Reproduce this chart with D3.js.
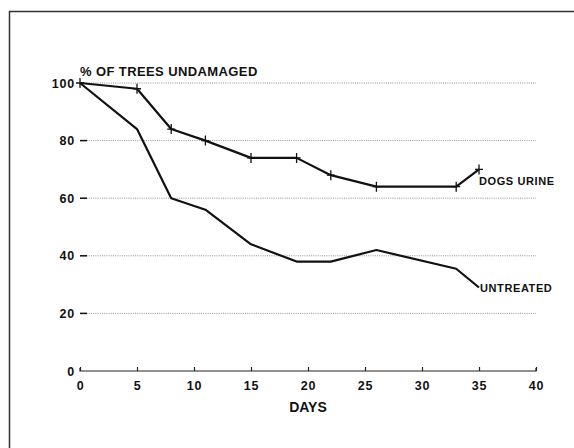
<!DOCTYPE html>
<html><head><meta charset="utf-8">
<script src="https://cdn.jsdelivr.net/npm/d3@7"></script>
<style>html,body{margin:0;padding:0;background:#fff}svg{display:block}</style>
</head><body>
<script>
const days = [0, 5, 8, 11, 15, 19, 22, 26, 33, 35];
const dogsUrine = [100, 98, 84, 80, 74, 74, 68, 64, 64, 70];
const untreated = [100, 84, 60, 56, 44, 38, 38, 42, 35.5, 29];
const xTicks = [0, 5, 10, 15, 20, 25, 30, 35, 40];
const yTicks = [0, 20, 40, 60, 80, 100];
const seriesNames = ["DOGS URINE", "UNTREATED"];
const yTitle = "% OF TREES UNDAMAGED";
const xTitle = "DAYS";

const W = 574, H = 448;
const svg = d3.select("body").append("svg").attr("width", W).attr("height", H);
const x = d3.scaleLinear().domain([0, 40]).range([80, 536]);
const y = d3.scaleLinear().domain([0, 100]).range([371, 83]);
const font = "'Liberation Sans', Arial, sans-serif";

// frame
svg.append("path").attr("d", `M9.5,${H} V11.5 H${W}`).attr("fill", "none")
  .attr("stroke", "#333").attr("stroke-width", 1.5);

// gridlines
svg.append("g").selectAll("line").data(yTicks.filter(d => d > 0)).join("line")
  .attr("x1", x(0)).attr("x2", x(40)).attr("y1", d => y(d)).attr("y2", d => y(d))
  .attr("stroke", "#777").attr("stroke-width", 0.8).attr("stroke-dasharray", "1,1.2");
// y ticks (inward dash)
svg.append("g").selectAll("line").data(yTicks.filter(d => d > 0 && d < 100)).join("line")
  .attr("x1", x(0)).attr("x2", x(0) + 7).attr("y1", d => y(d)).attr("y2", d => y(d))
  .attr("stroke", "#111").attr("stroke-width", 1.5);

// x axis
const xAxis = d3.axisBottom(x).tickValues(xTicks).tickSize(-4).tickPadding(10).tickFormat(d3.format("d"));
const gx = svg.append("g").attr("transform", `translate(0,${y(0)})`).call(xAxis);
gx.select(".domain").attr("stroke", "#222").attr("stroke-width", 1.2).attr("d", `M${x(0)},-3V0H${x(40)}V-3`);
gx.selectAll(".tick line").attr("stroke", "#222").attr("stroke-width", 1.2);
gx.selectAll(".tick text").attr("font-family", font).attr("font-weight", "bold")
  .attr("font-size", 12.5).attr("fill", "#111").attr("letter-spacing", 0.8);

// y labels
const yAxis = d3.axisLeft(y).tickValues(yTicks).tickSize(0).tickPadding(5).tickFormat(d3.format("d"));
const gy = svg.append("g").attr("transform", `translate(${x(0)},0)`).call(yAxis);
gy.select(".domain").remove();
gy.selectAll(".tick text").attr("font-family", font).attr("font-weight", "bold")
  .attr("font-size", 12.5).attr("fill", "#111").attr("letter-spacing", 0.8);

// titles
svg.append("text").attr("x", x(0)).attr("y", 76).text(yTitle)
  .attr("font-family", font).attr("font-weight", "bold").attr("font-size", 13).attr("fill", "#111")
  .attr("letter-spacing", 0.4);
svg.append("text").attr("x", x(20)).attr("y", 412).attr("text-anchor", "middle").text(xTitle)
  .attr("font-family", font).attr("font-weight", "bold").attr("font-size", 14).attr("fill", "#111");

// lines
const line = d3.line().x(d => x(d[0])).y(d => y(d[1]));
const dogsData = days.map((d, i) => [d, dogsUrine[i]]);
const untrData = days.map((d, i) => [d, untreated[i]]);
svg.append("path").datum(untrData).attr("d", line).attr("fill", "none")
  .attr("stroke", "#111").attr("stroke-width", 2.2).attr("stroke-linejoin", "round");
svg.append("path").datum(dogsData).attr("d", line).attr("fill", "none")
  .attr("stroke", "#111").attr("stroke-width", 2.2).attr("stroke-linejoin", "round");

// + markers
svg.append("g").selectAll("path").data(dogsData).join("path")
  .attr("d", d => `M${x(d[0]) - 4},${y(d[1])}H${x(d[0]) + 4}M${x(d[0])},${y(d[1]) - 5}V${y(d[1]) + 5}`)
  .attr("stroke", "#111").attr("stroke-width", 1.3);

// series labels
const last = days.length - 1;
svg.append("text").attr("x", x(days[last])).attr("y", y(dogsUrine[last]) + 16).text(seriesNames[0])
  .attr("font-family", font).attr("font-weight", "bold").attr("font-size", 11).attr("fill", "#111").attr("letter-spacing", 0.6);
svg.append("text").attr("x", x(days[last]) + 1).attr("y", y(untreated[last]) + 5).text(seriesNames[1])
  .attr("font-family", font).attr("font-weight", "bold").attr("font-size", 11).attr("fill", "#111").attr("letter-spacing", 0.6);
</script>
</body></html>
